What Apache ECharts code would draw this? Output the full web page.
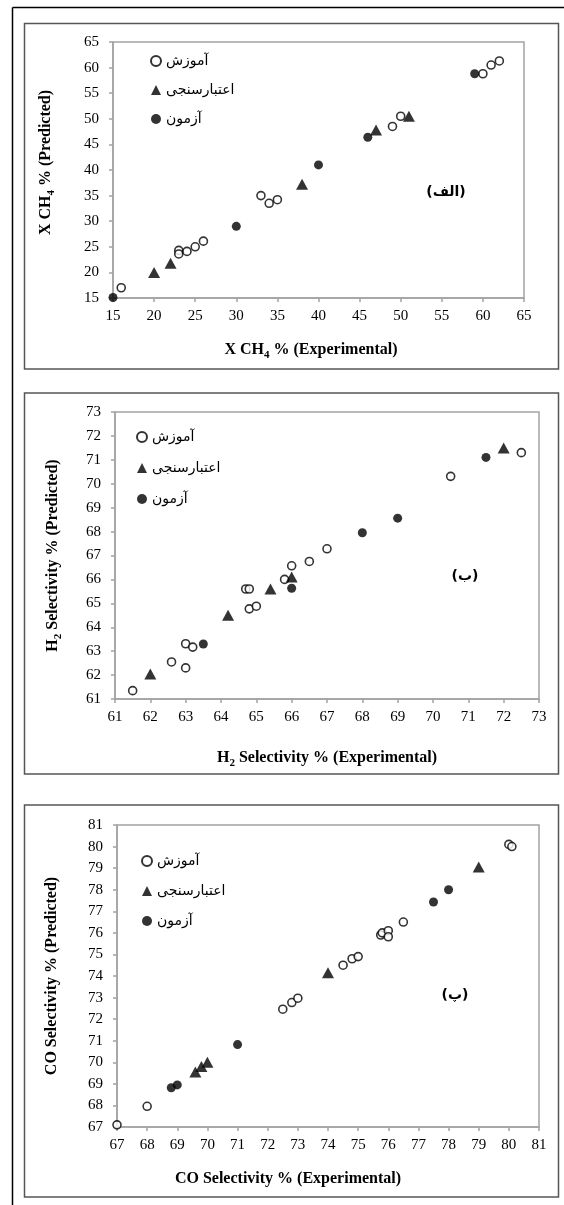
<!DOCTYPE html>
<html>
<head>
<meta charset="utf-8">
<script src="https://cdn.jsdelivr.net/npm/echarts@6/dist/echarts.min.js"></script>
<style>html,body{margin:0;padding:0;background:#fff}#c{width:564px;height:1205px}</style>
</head>
<body>
<div id="c"></div>
<script>
// ---- legend names ----
const seriesNames = ['آموزش', 'اعتبارسنجی', 'آزمون'];
const panelLabels = ['(الف)', '(ب)', '(پ)'];

// ---- Panel 1: X CH4 % ----
const ch4Ticks = { min: 15, max: 65, interval: 5 };
const ch4Train = [[16,17],[23,24.3],[23,23.6],[24,24.1],[25,25],[26,26.1],[33,35],[34,33.5],[35,34.2],[49,48.5],[50,50.5],[60,58.8],[61,60.5],[62,61.3]];
const ch4Valid = [[20,20],[22,21.8],[38,37.2],[47,47.8],[51,50.5]];
const ch4Test  = [[15,15.1],[30,29],[40,41],[46,46.4],[59,58.8]];

// ---- Panel 2: H2 Selectivity % ----
const h2Ticks = { min: 61, max: 73, interval: 1 };
const h2Train = [[61.5,61.35],[62.6,62.55],[63,62.3],[63,63.31],[63.2,63.17],[64.7,65.6],[64.8,65.6],[64.8,64.77],[65,64.88],[65.8,66],[66,66.57],[66.5,66.75],[67,67.28],[70.5,70.31],[72.5,71.3]];
const h2Valid = [[62,62.05],[64.2,64.5],[65.4,65.6],[66,66.1],[72,71.5]];
const h2Test  = [[63.5,63.3],[66,65.63],[68,67.95],[69,68.56],[71.5,71.1]];

// ---- Panel 3: CO Selectivity % ----
const coTicks = { min: 67, max: 81, interval: 1 };
const coTrain = [[67,67.1],[68,67.96],[72.5,72.46],[72.8,72.77],[73,72.97],[74.5,74.5],[74.8,74.8],[75,74.9],[75.75,75.9],[75.8,76],[76,76.1],[76,75.82],[76.5,76.5],[80,80.1],[80.1,80]];
const coValid = [[69.6,69.55],[69.8,69.8],[70,70],[74,74.15],[79,79.05]];
const coTest  = [[68.8,68.82],[69,68.95],[71,70.82],[77.5,77.43],[78,78]];

const SERIF = "'Liberation Serif','Times New Roman',serif";
const AR = "'DejaVu Sans',sans-serif";
const axisGray = '#a3a3a3';

const grids = [
  { left: 113, top: 42, width: 411, height: 256 },
  { left: 115, top: 412, width: 424, height: 287 },
  { left: 117, top: 825, width: 422, height: 302 }
];
const ticks = [ch4Ticks, h2Ticks, coTicks];
const xNames = [
  '{t|X CH}{s|4}{t| % (Experimental)}',
  '{t|H}{s|2}{t| Selectivity % (Experimental)}',
  '{t|CO Selectivity % (Experimental)}'
];
const yNames = [
  '{t|X CH}{s|4}{t| % (Predicted)}',
  '{t|H}{s|2}{t| Selectivity % (Predicted)}',
  '{t|CO Selectivity % (Predicted)}'
];
const xGaps = [41, 48, 43];
const yGaps = [56, 51, 56];
const xPad = [[0,15,0,0],[0,0,0,0],[0,80,0,0]];
const yPad = [[0,0,0,15],[0,0,0,0],[0,0,0,0]];

const richName = {
  t: { fontFamily: SERIF, fontWeight: 'bold', fontSize: 16, lineHeight: 18, color: '#000' },
  s: { fontFamily: SERIF, fontWeight: 'bold', fontSize: 11, lineHeight: 22, verticalAlign: 'bottom', color: '#000' }
};

function axisCommon(i) {
  return {
    type: 'value', gridIndex: i,
    min: ticks[i].min, max: ticks[i].max, interval: ticks[i].interval,
    axisLine: { show: true, lineStyle: { color: axisGray, width: 1.5 } },
    axisTick: { show: true, inside: false, length: 4, lineStyle: { color: axisGray, width: 1.5 } },
    splitLine: { show: false },
    axisLabel: { color: '#000', fontFamily: SERIF, fontSize: 15 },
    nameLocation: 'middle'
  };
}

const xAxis = [0,1,2].map(i => Object.assign(axisCommon(i), {
  name: xNames[i], nameGap: xGaps[i],
  nameTextStyle: { rich: richName, padding: xPad[i] },
  axisLabel: { color: '#000', fontFamily: SERIF, fontSize: 15, margin: 11 }
}));
const yAxis = [0,1,2].map(i => Object.assign(axisCommon(i), {
  name: yNames[i], nameGap: yGaps[i], nameRotate: 90,
  nameTextStyle: { rich: richName, padding: yPad[i] },
  axisLabel: { color: '#000', fontFamily: SERIF, fontSize: 15, margin: 14 }
}));

const styles = [
  { symbol: 'circle', symbolSize: 8, itemStyle: { color: '#fff', borderColor: '#000', borderWidth: 1.6 } },
  { symbol: 'triangle', symbolSize: [12, 11], itemStyle: { color: '#000', borderWidth: 0 } },
  { symbol: 'circle', symbolSize: 9, itemStyle: { color: '#000', borderWidth: 0 } }
];
const panelData = [[ch4Train, ch4Valid, ch4Test],[h2Train, h2Valid, h2Test],[coTrain, coValid, coTest]];
const series = [];
panelData.forEach((sets, g) => {
  sets.forEach((d, k) => {
    series.push(Object.assign({
      type: 'scatter', name: seriesNames[k], xAxisIndex: g, yAxisIndex: g,
      data: d, z: 3 + k, emphasis: { disabled: true }
    }, JSON.parse(JSON.stringify(styles[k]))));
  });
});

const legendPos = [
  { left: 150, top: 53, itemGap: 13 },
  { left: 136, top: 429, itemGap: 15 },
  { left: 141, top: 853, itemGap: 14 }
];
const legend = legendPos.map(p => ({
  data: seriesNames, orient: 'vertical', left: p.left, top: p.top, itemGap: p.itemGap,
  padding: 0, itemWidth: 10, itemHeight: 10, selectedMode: false,
  textStyle: { fontFamily: AR, fontSize: 14, color: '#000', lineHeight: 16 }
}));

const labelPos = [[446, 192], [465, 576], [455, 995]];
const boxes = [[24.5, 23.5, 534, 345.5], [24.5, 393, 534, 381], [24.5, 805, 534, 392]];
const graphic = [
  { type: 'line', shape: { x1: 12.5, y1: 7.5, x2: 564, y2: 7.5 }, style: { stroke: '#000', lineWidth: 1.5 }, silent: true },
  { type: 'line', shape: { x1: 12.5, y1: 7.5, x2: 12.5, y2: 1205 }, style: { stroke: '#000', lineWidth: 1.5 }, silent: true }
];
boxes.forEach(b => graphic.push({ type: 'rect', shape: { x: b[0], y: b[1], width: b[2], height: b[3] }, style: { fill: null, stroke: '#555', lineWidth: 1.5 }, silent: true }));
labelPos.forEach((p, i) => graphic.push({ type: 'text', x: p[0], y: p[1], style: { text: panelLabels[i], font: "bold 14px 'DejaVu Sans'", fill: '#000', align: 'center', verticalAlign: 'middle' }, silent: true }));

const chart = echarts.init(document.getElementById('c'), null, { renderer: 'canvas' });
chart.setOption({
  animation: false,
  backgroundColor: '#fff',
  grid: grids.map(g => Object.assign({ show: true, borderColor: axisGray, borderWidth: 1.5, backgroundColor: 'transparent' }, g)),
  xAxis, yAxis, series, legend, graphic
});
</script>
</body>
</html>
